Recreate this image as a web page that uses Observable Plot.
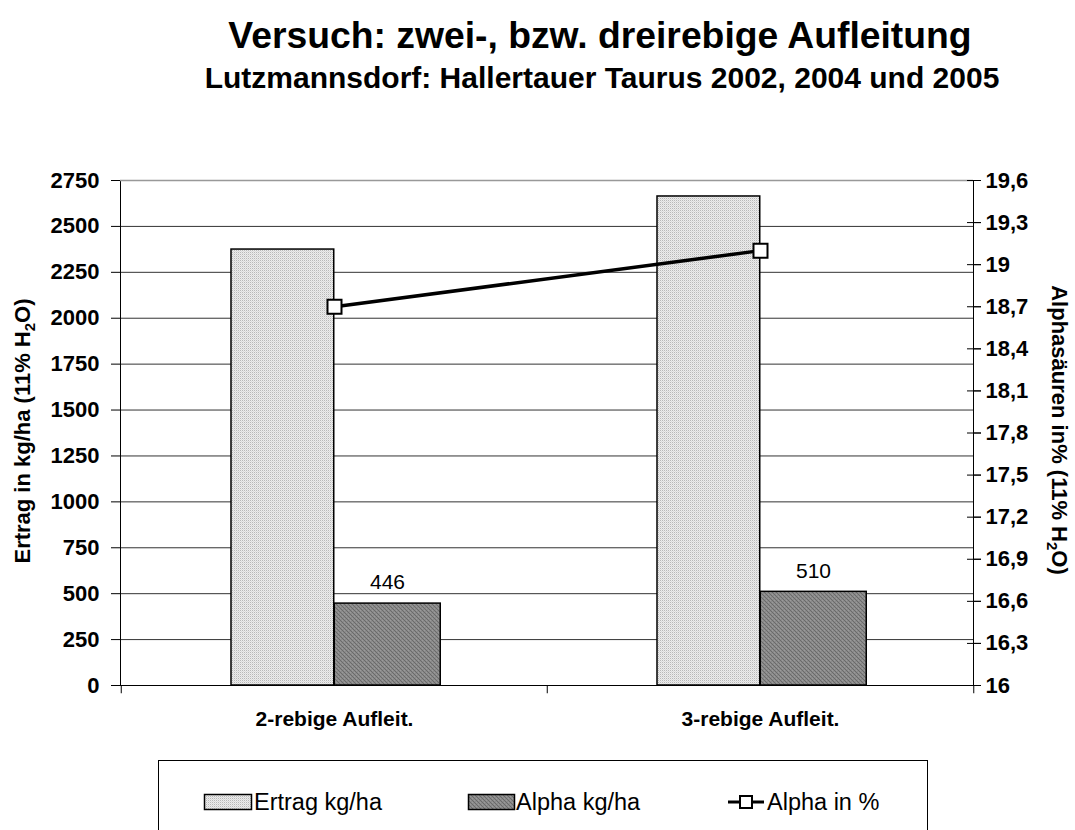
<!DOCTYPE html>
<html>
<head>
<meta charset="utf-8">
<script src="https://cdn.jsdelivr.net/npm/d3@7"></script>
<script src="https://cdn.jsdelivr.net/npm/@observablehq/plot@0.6"></script>
<style>
  html, body { margin: 0; padding: 0; background: #fff; }
  #wrap { position: relative; width: 1075px; height: 830px; overflow: hidden; background: #fff; }
  #wrap > svg { position: absolute; left: 0; top: 0; }
  text { font-family: "Liberation Sans", Arial, sans-serif; }
</style>
</head>
<body>
<svg width="0" height="0" style="position:absolute">
  <defs>
    <pattern id="pLight" width="2" height="2" patternUnits="userSpaceOnUse">
      <rect width="2" height="2" fill="#ececec"/>
      <rect x="0" y="0" width="1" height="1" fill="#b8b8b8"/>
      <rect x="1" y="1" width="1" height="1" fill="#dadada"/>
    </pattern>
    <pattern id="pDark" width="4" height="4" patternUnits="userSpaceOnUse">
      <rect width="4" height="4" fill="#8a8a8a"/>
      <rect x="0" y="0" width="1" height="1" fill="#6a6a6a"/>
      <rect x="1" y="1" width="1" height="1" fill="#6a6a6a"/>
      <rect x="2" y="2" width="1" height="1" fill="#6a6a6a"/>
      <rect x="3" y="3" width="1" height="1" fill="#6a6a6a"/>
      <rect x="2" y="0" width="1" height="1" fill="#9a9a9a"/>
      <rect x="0" y="2" width="1" height="1" fill="#9a9a9a"/>
    </pattern>
  </defs>
</svg>
<div id="wrap"></div>
<script>
// ---- data ----
const categories = ["2-rebige Aufleit.", "3-rebige Aufleit."];
const ertragKgHa = [2374, 2663];
const alphaKgHa = [446, 510];
const alphaPct = [18.7, 19.1];
const leftTicks = [0, 250, 500, 750, 1000, 1250, 1500, 1750, 2000, 2250, 2500, 2750];
const rightTicks = [16, 16.3, 16.6, 16.9, 17.2, 17.5, 17.8, 18.1, 18.4, 18.7, 19, 19.3, 19.6];
const rightTickLabels = ["16", "16,3", "16,6", "16,9", "17,2", "17,5", "17,8", "18,1", "18,4", "18,7", "19", "19,3", "19,6"];
const legendLabels = ["Ertrag kg/ha", "Alpha kg/ha", "Alpha in %"];

// right axis (16 .. 19,6) mapped onto left axis (0 .. 2750)
const leftMax = 2750, rMin = 16, rMax = 19.6;
const toLeft = v => (v - rMin) / (rMax - rMin) * leftMax;

const rows = categories.map((c, i) => ({cat: c, ertrag: ertragKgHa[i], alphaKg: alphaKgHa[i], alphaPct: alphaPct[i]}));
const rightPos = rightTicks.map(toLeft);
const rightLabelByPos = new Map(rightPos.map((p, i) => [p, rightTickLabels[i]]));

const font = "Liberation Sans, Arial, sans-serif";

const chart = Plot.plot({
  width: 1075,
  height: 830,
  marginTop: 180,
  marginBottom: 145,
  marginLeft: 120,
  marginRight: 102,
  style: {fontFamily: font, background: "transparent", color: "#000"},
  x: {domain: categories, padding: 0, axis: null, label: null},
  y: {domain: [0, leftMax], axis: null, label: null},
  marks: [
    Plot.ruleY(leftTicks.filter(v => v > 0 && v < leftMax), {stroke: "#333", strokeWidth: 1}),
    Plot.barY(rows, {x: "cat", y: "ertrag", fill: "url(#pLight)", stroke: "#000", strokeWidth: 1.5, insetLeft: 110, insetRight: 213.25}),
    Plot.barY(rows, {x: "cat", y: "alphaKg", fill: "url(#pDark)", stroke: "#000", strokeWidth: 1.5, insetLeft: 213.25, insetRight: 106.75}),
    Plot.text(rows, {x: "cat", y: "alphaKg", text: d => String(d.alphaKg), dx: 53, dy: -21, fontSize: 21, fill: "#000"}),
    Plot.frame({stroke: "#000", strokeWidth: 1}),
    Plot.ruleY([leftMax], {stroke: "#999", strokeWidth: 1.5}),
    // category boundary ticks below the x axis
    Plot.ruleX(categories, {x: d => d, dx: -213.25, y1: 0, y2: -45, stroke: "#000"}),
    Plot.ruleX([categories[categories.length - 1]], {x: d => d, dx: 213.25, y1: 0, y2: -45, stroke: "#000"}),
    Plot.line(rows, {x: "cat", y: d => toLeft(d.alphaPct), stroke: "#000", strokeWidth: 3.5}),
    Plot.dot(rows, {x: "cat", y: d => toLeft(d.alphaPct), symbol: "square", r: 7.9, fill: "#fff", stroke: "#000", strokeWidth: 2}),
    Plot.axisY(leftTicks, {anchor: "left", label: null, tickSize: 9, tickPadding: 12, fontSize: 22, fontWeight: "bold", tickFormat: d => String(d), stroke: "#000"}),
    Plot.axisY(rightPos, {anchor: "right", label: null, tickSize: 7, tickPadding: 5, fontSize: 22, fontWeight: "bold", tickFormat: d => rightLabelByPos.get(d), stroke: "#000"}),
    Plot.axisY(rightPos, {anchor: "right", label: null, tickSize: 14, dx: -7, tickFormat: () => "", stroke: "#000"}),
    Plot.axisX(categories, {anchor: "bottom", label: null, tickSize: 0, tickPadding: 26, fontSize: 21, fontWeight: "bold"})
  ]
});
document.getElementById("wrap").appendChild(chart);

// ---- titles, axis titles and legend ----
const ns = "http://www.w3.org/2000/svg";
const ov = d3.select("#wrap").append("svg").attr("xmlns", ns).attr("width", 1075).attr("height", 830)
  .style("font-family", font);

ov.append("text").attr("x", 600).attr("y", 48).attr("text-anchor", "middle")
  .attr("font-size", 37.3).attr("font-weight", "bold").text("Versuch: zwei-, bzw. dreirebige Aufleitung");
ov.append("text").attr("x", 602).attr("y", 88).attr("text-anchor", "middle")
  .attr("font-size", 30).attr("font-weight", "bold").text("Lutzmannsdorf: Hallertauer Taurus 2002, 2004 und 2005");

function axisTitle(g, parts) {
  const t = g.append("text").attr("text-anchor", "middle").attr("font-size", 22).attr("font-weight", "bold");
  t.append("tspan").text(parts[0]);
  t.append("tspan").attr("font-size", 15).attr("dy", 5).text("2");
  t.append("tspan").attr("dy", -5).text("O)");
}
axisTitle(ov.append("g").attr("transform", "translate(30,431) rotate(-90)"), ["Ertrag in kg/ha (11% H"]);
axisTitle(ov.append("g").attr("transform", "translate(1052,430) rotate(90)"), ["Alphasäuren in% (11% H"]);

// legend
const lg = ov.append("g");
lg.append("rect").attr("x", 158.5).attr("y", 760.5).attr("width", 769).attr("height", 90)
  .attr("fill", "none").attr("stroke", "#000").attr("stroke-width", 1);
lg.append("rect").attr("x", 204.5).attr("y", 794.5).attr("width", 47).attr("height", 15)
  .attr("fill", "url(#pLight)").attr("stroke", "#000").attr("stroke-width", 1.5);
lg.append("text").attr("x", 254).attr("y", 810).attr("font-size", 23.5).text(legendLabels[0]);
lg.append("rect").attr("x", 468.5).attr("y", 794.5).attr("width", 46).attr("height", 15)
  .attr("fill", "url(#pDark)").attr("stroke", "#000").attr("stroke-width", 1.5);
lg.append("text").attr("x", 516).attr("y", 810).attr("font-size", 23.5).text(legendLabels[1]);
lg.append("line").attr("x1", 728).attr("x2", 764).attr("y1", 802).attr("y2", 802).attr("stroke", "#000").attr("stroke-width", 3);
lg.append("rect").attr("x", 740).attr("y", 796).attr("width", 12).attr("height", 12)
  .attr("fill", "#fff").attr("stroke", "#000").attr("stroke-width", 2);
lg.append("text").attr("x", 767).attr("y", 810).attr("font-size", 23.5).text(legendLabels[2]);
</script>
</body>
</html>
